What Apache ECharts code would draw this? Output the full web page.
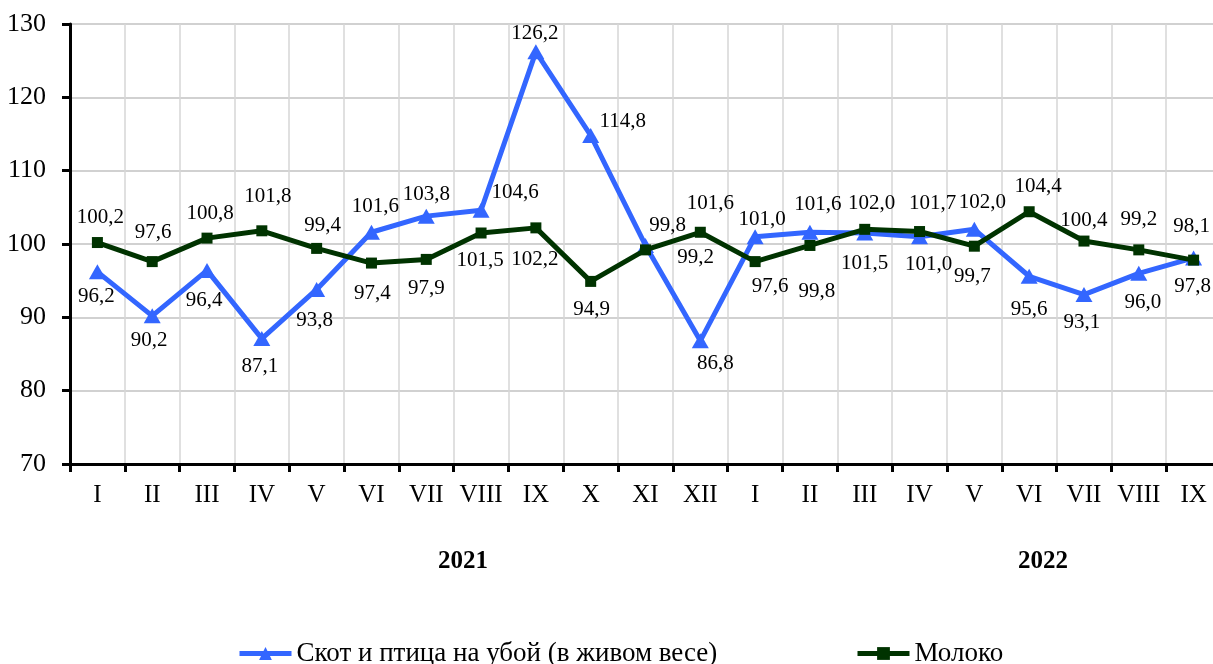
<!DOCTYPE html>
<html>
<head>
<meta charset="utf-8">
<script src="https://cdn.jsdelivr.net/npm/echarts@6/dist/echarts.min.js"></script>
<style>
  html, body { margin: 0; padding: 0; background: #fff; }
  #chart { width: 1213px; height: 664px; }
</style>
</head>
<body>
<div id="chart"></div>
<script>
// months, two years
const months = ['I', 'II', 'III', 'IV', 'V', 'VI', 'VII', 'VIII', 'IX', 'X', 'XI', 'XII',
  'I', 'II', 'III', 'IV', 'V', 'VI', 'VII', 'VIII', 'IX'];
const years = ['2021', '2022'];
const seriesNames = ['Скот и птица на убой (в живом весе)', 'Молоко'];

const livestock = [96.2, 90.2, 96.4, 87.1, 93.8, 101.6, 103.8, 104.6, 126.2, 114.8, 99.8, 86.8,
  101.0, 101.6, 101.5, 101.0, 102.0, 95.6, 93.1, 96.0, 98.1];
const milk = [100.2, 97.6, 100.8, 101.8, 99.4, 97.4, 97.9, 101.5, 102.2, 94.9, 99.2, 101.6,
  97.6, 99.8, 102.0, 101.7, 99.7, 104.4, 100.4, 99.2, 97.8];

const yTicks = { min: 70, max: 130, step: 10 };

// where each value label sits relative to its point (px)
const livestockLabelShift = [[-1, 25], [-3, 25], [-3, 30], [-2, 28], [-2, 31], [4, -26], [0, -22],
  [34, -18], [-1, -18], [32, -14], [22, -20], [15, 23], [7, -17], [8, -28], [0, 30], [9, 28],
  [8, -27], [0, 33], [-2, 28], [4, 29], [-2, -31]];
const milkLabelShift = [[3, -25], [1, -29], [3, -25], [6, -34], [6, -23], [1, 30], [0, 29],
  [-1, 27], [-1, 32], [1, 28], [50, 8], [10, -29], [15, 25], [7, 46], [7, -26], [13, -28],
  [-2, 30], [9, -25], [0, -21], [0, -30], [-1, 26]];

const FONT = "'Liberation Serif', 'Times New Roman', serif";
const BLUE = '#3366ff';
const GREEN = '#003300';

const fmt = v => v.toFixed(1).replace('.', ',');

function withLabels(values, shifts) {
  return values.map((v, i) => ({
    value: v,
    label: { offset: shifts[i] }
  }));
}

const labelStyle = {
  show: true,
  position: 'inside',
  align: 'center',
  verticalAlign: 'middle',
  fontFamily: FONT,
  fontSize: 21,
  color: '#000',
  formatter: p => fmt(p.value)
};

const legendBase = {
  top: 640,
  padding: 0,
  itemWidth: 52,
  itemHeight: 16,
  lineStyle: { width: 5 },
  textStyle: { fontFamily: FONT, fontSize: 27, color: '#000' }
};

const chart = echarts.init(document.getElementById('chart'));

chart.setOption({
  animation: false,
  backgroundColor: '#fff',
  textStyle: { fontFamily: FONT },
  grid: { left: 70, right: -8, top: 24, bottom: 200, containLabel: false, outerBoundsMode: 'none' },
  legend: [
    Object.assign({ data: [seriesNames[0]], left: 237 }, legendBase),
    Object.assign({ data: [seriesNames[1]], left: 855 }, legendBase)
  ],
  xAxis: {
    type: 'category',
    data: months,
    boundaryGap: true,
    axisLine: { lineStyle: { color: '#000', width: 3 } },
    axisTick: { show: true, interval: 0, length: 8, lineStyle: { color: '#000', width: 3 } },
    axisLabel: { interval: 0, margin: 19, fontFamily: FONT, fontSize: 25, color: '#000' },
    splitLine: { show: true, interval: 0, lineStyle: { color: '#d6d6d6', width: 1.5 } }
  },
  yAxis: {
    type: 'value',
    min: yTicks.min, max: yTicks.max, interval: yTicks.step,
    axisLine: { show: true, lineStyle: { color: '#000', width: 3 } },
    axisTick: { show: true, length: 8, lineStyle: { color: '#000', width: 3 } },
    axisLabel: { margin: 24, fontFamily: FONT, fontSize: 26, color: '#000' },
    splitLine: { show: true, lineStyle: { color: '#c2c2c2', width: 1.5 } }
  },
  graphic: years.map((y, i) => ({
    type: 'text',
    x: i === 0 ? 463 : 1043,
    y: 562,
    style: {
      text: y, fontFamily: FONT, fontSize: 25, fontWeight: 'bold', fill: '#000',
      align: 'center', verticalAlign: 'middle'
    }
  })),
  series: [
    {
      name: seriesNames[0],
      type: 'line',
      data: withLabels(livestock, livestockLabelShift),
      symbol: 'triangle',
      symbolSize: [17, 15],
      lineStyle: { color: BLUE, width: 5 },
      itemStyle: { color: BLUE },
      label: labelStyle,
      z: 2
    },
    {
      name: seriesNames[1],
      type: 'line',
      data: withLabels(milk, milkLabelShift),
      symbol: 'rect',
      symbolSize: 11,
      lineStyle: { color: GREEN, width: 5 },
      itemStyle: { color: GREEN },
      label: labelStyle,
      z: 3
    }
  ]
});
</script>
</body>
</html>
